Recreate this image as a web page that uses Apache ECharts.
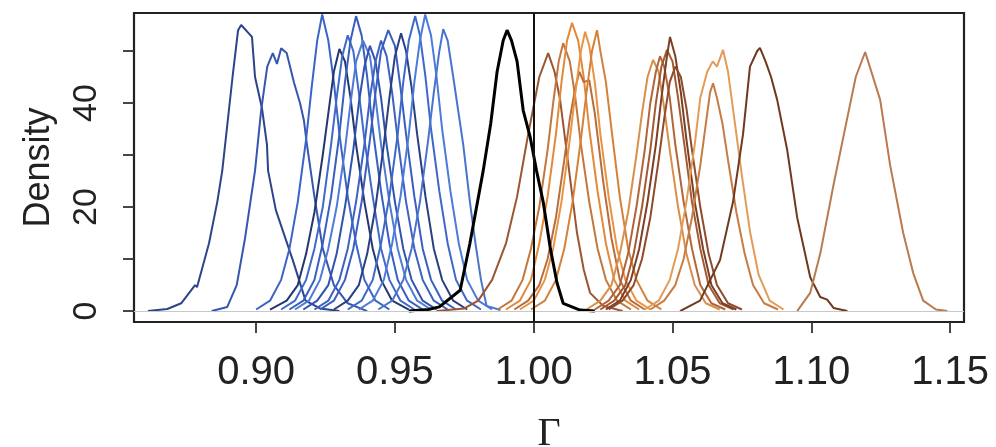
<!DOCTYPE html>
<html>
<head>
<meta charset="utf-8">
<script src="https://cdn.jsdelivr.net/npm/echarts@6/dist/echarts.min.js"></script>
<style>
html,body{margin:0;padding:0;background:#fff;}
#chart{width:996px;height:447px;}
</style>
</head>
<body>
<div id="chart"></div>
<script>
// ---- tick values ----
const xTicks = [0.90, 0.95, 1.00, 1.05, 1.10, 1.15];
const yTicks = [0, 10, 20, 30, 40, 50];
const yLabels = [0, 20, 40];
const refLine = 1.00;

// ---- blue density curves [Gamma, density] ----
const blueA = [[0.861,0],[0.868,0.4],[0.873,1.5],[0.878,5],[0.8787,4.6],[0.883,13],[0.886,21],[0.8878,27],[0.8915,45],[0.8935,54],[0.8946,55],[0.8985,52.7],[0.8996,45],[0.9021,39],[0.9039,32],[0.9043,27],[0.9071,19.4],[0.9132,9.8],[0.9178,2],[0.923,0.5],[0.930,0]];
const blueB = [[0.884,0],[0.8896,0.8],[0.893,5],[0.896,14],[0.8996,27],[0.9018,38.6],[0.904,47],[0.906,49.6],[0.9075,47.5],[0.909,50.5],[0.911,49.6],[0.9136,44],[0.9158,40],[0.9172,36.7],[0.9183,32],[0.921,22],[0.924,12],[0.928,5],[0.933,1.5],[0.940,0]];
const blueC = [[0.900,0.3],[0.905,2],[0.909,6],[0.912,12],[0.915,21],[0.918,33],[0.920,43],[0.922,52],[0.9238,57],[0.926,52],[0.928,44],[0.930,34],[0.933,22],[0.936,13],[0.939,6],[0.943,2],[0.948,0.3]];
const blueD = [[0.905,0.3],[0.911,2],[0.915,5],[0.918,11],[0.921,19],[0.924,30],[0.926,38],[0.928,46],[0.930,50.4],[0.932,48],[0.934,41],[0.936,32],[0.939,21],[0.942,12],[0.945,6],[0.949,2],[0.955,0.3]];
const blueN = [[0.909,0.3],[0.914,2],[0.918,6],[0.921,12],[0.924,20],[0.927,32],[0.929,41],[0.931,49],[0.933,53],[0.935,50],[0.937,42],[0.939,33],[0.942,22],[0.945,12],[0.948,6],[0.952,2],[0.957,0.3]];
const blueE = [[0.912,0.3],[0.917,2],[0.921,6],[0.924,13],[0.927,22],[0.930,34],[0.932,44],[0.934,52],[0.936,56.7],[0.938,53],[0.940,45],[0.942,35],[0.945,23],[0.948,13],[0.951,6],[0.955,2],[0.960,0.3]];
const blueF = [[0.914,0.3],[0.919,2],[0.923,6],[0.926,12],[0.929,20],[0.932,31],[0.934,40],[0.936,48],[0.9385,52],[0.941,49],[0.943,41],[0.945,32],[0.948,21],[0.951,12],[0.954,6],[0.958,2],[0.963,0.3]];
const blueG = [[0.917,0.3],[0.922,2],[0.926,5],[0.929,11],[0.932,20],[0.935,31],[0.937,40],[0.939,47],[0.941,51],[0.943,48],[0.945,41],[0.947,32],[0.950,21],[0.953,12],[0.956,6],[0.960,2],[0.965,0.3]];
const blueM = [[0.921,0.3],[0.926,2],[0.930,6],[0.933,12],[0.936,21],[0.939,32],[0.941,41],[0.943,48],[0.945,52],[0.947,49],[0.949,42],[0.951,33],[0.954,21],[0.957,12],[0.960,6],[0.964,2],[0.969,0.3]];
const blueH = [[0.923,0.3],[0.928,2],[0.932,6],[0.935,12],[0.938,21],[0.941,33],[0.943,42],[0.945,50],[0.9476,54],[0.950,51],[0.952,43],[0.954,34],[0.957,22],[0.960,12],[0.963,6],[0.967,2],[0.972,0.3]];
const blueI = [[0.928,0.3],[0.933,2],[0.937,5],[0.940,11],[0.943,20],[0.946,32],[0.948,41],[0.950,49],[0.9522,53.4],[0.954,50],[0.956,43],[0.958,34],[0.961,22],[0.964,12],[0.967,6],[0.971,2],[0.976,0.3]];
const blueJ = [[0.933,0.3],[0.938,2],[0.942,6],[0.945,13],[0.948,22],[0.951,34],[0.953,44],[0.955,52],[0.9573,56.7],[0.959,53],[0.961,45],[0.963,35],[0.966,23],[0.969,13],[0.972,6],[0.976,2],[0.981,0.3]];
const blueK = [[0.937,0.3],[0.942,2],[0.946,6],[0.949,13],[0.952,22],[0.955,34],[0.957,44],[0.959,52],[0.9609,57],[0.963,53],[0.965,45],[0.967,35],[0.970,23],[0.973,13],[0.976,6],[0.980,2],[0.985,0.3]];
const blueL = [[0.944,0.3],[0.949,2],[0.953,6],[0.956,12],[0.959,21],[0.962,33],[0.964,42],[0.966,50],[0.9674,54.2],[0.969,52],[0.971,45],[0.9746,32],[0.977,21],[0.979,13],[0.981,6],[0.983,1],[0.988,0.2]];

// ---- black reference curve ----
const blackCurve = [[0.955,0],[0.962,0.3],[0.966,0.8],[0.9735,4],[0.977,13],[0.9818,27],[0.9845,36],[0.9868,46],[0.989,52],[0.9904,54],[0.992,52],[0.994,48],[0.9962,38.6],[0.9987,33.5],[1.001,27],[1.0034,21],[1.006,12],[1.0084,5.4],[1.0106,1.5],[1.0167,0.2],[1.022,0]];

// ---- orange / brown density curves ----
const orA = [[0.965,0],[0.975,0.5],[0.980,2],[0.985,6],[0.990,13],[0.994,22],[0.998,34],[1.002,45],[1.0052,49.6],[1.0075,46],[1.0095,40.6],[1.0125,28],[1.0156,15],[1.018,8],[1.0203,3.5],[1.025,1],[1.032,0]];
const orB = [[0.987,0.3],[0.992,2],[0.996,6],[0.999,12],[1.002,20],[1.005,31],[1.007,40],[1.009,48],[1.0106,51.5],[1.013,48],[1.015,41],[1.017,32],[1.020,21],[1.023,12],[1.026,6],[1.030,2],[1.035,0.3]];
const orC = [[0.990,0.3],[0.995,2],[0.999,6],[1.002,13],[1.005,22],[1.008,34],[1.010,44],[1.012,52],[1.0138,55.4],[1.016,52],[1.018,45],[1.020,35],[1.023,23],[1.026,13],[1.029,6],[1.033,2],[1.038,0.3]];
const orD = [[0.993,0.3],[0.998,2],[1.002,5],[1.005,10],[1.008,18],[1.011,29],[1.013,37],[1.015,43],[1.0165,46],[1.018,44],[1.020,44.4],[1.022,38],[1.025,25],[1.028,14],[1.031,6],[1.035,2],[1.040,0.3]];
const orE = [[0.995,0.3],[1.000,2],[1.004,6],[1.007,12],[1.010,21],[1.013,33],[1.015,42],[1.017,50],[1.0185,53.7],[1.020,51],[1.022,44],[1.024,34],[1.027,22],[1.030,12],[1.033,6],[1.037,2],[1.042,0.3]];
const orF = [[0.999,0.3],[1.004,2],[1.008,6],[1.011,12],[1.014,21],[1.017,33],[1.019,42],[1.021,50],[1.0228,54],[1.024,50],[1.026,44],[1.028,35],[1.031,22],[1.034,12],[1.037,6],[1.041,2],[1.046,0.3]];
const orG = [[1.019,0.3],[1.024,2],[1.028,5],[1.031,11],[1.034,19],[1.037,30],[1.039,38],[1.041,45],[1.043,48.3],[1.045,46],[1.047,39],[1.049,31],[1.052,20],[1.055,11],[1.058,5],[1.062,1.5],[1.067,0.3]];
const orH = [[1.022,0.3],[1.027,2],[1.031,5],[1.034,11],[1.037,20],[1.040,31],[1.042,40],[1.044,46],[1.0455,49],[1.047,47],[1.049,41],[1.051,32],[1.054,21],[1.057,12],[1.060,5],[1.064,1.5],[1.069,0.3]];
const orI = [[1.024,0.3],[1.029,2],[1.033,5],[1.036,11],[1.039,20],[1.042,31],[1.044,40],[1.046,47],[1.048,50.2],[1.050,48],[1.052,41],[1.054,33],[1.057,21],[1.060,12],[1.063,5],[1.067,1.5],[1.072,0.3]];
const orJ = [[1.026,0.3],[1.031,2],[1.035,6],[1.038,12],[1.041,21],[1.044,32],[1.046,41],[1.048,49],[1.0491,52.7],[1.051,49],[1.053,42],[1.055,33],[1.058,21],[1.061,12],[1.064,5],[1.068,1.5],[1.073,0.3]];
const orK = [[1.027,0.3],[1.032,2],[1.036,5],[1.039,10],[1.042,18],[1.045,29],[1.047,37],[1.049,44],[1.051,47],[1.053,45],[1.055,39],[1.057,31],[1.060,20],[1.063,11],[1.066,5],[1.070,1.5],[1.075,0.3]];
const orL = [[1.042,0.3],[1.047,2],[1.051,5],[1.054,10],[1.057,18],[1.060,28],[1.062,36],[1.0635,42],[1.0646,43.8],[1.066,41],[1.068,36],[1.070,29],[1.073,19],[1.076,11],[1.079,5],[1.083,1.5],[1.088,0.3]];
const orM = [[1.040,0.3],[1.045,2],[1.049,6],[1.052,12],[1.055,21],[1.058,32],[1.060,41],[1.0625,46],[1.0645,48],[1.066,47],[1.0682,50.2],[1.070,46],[1.072,38],[1.075,26],[1.078,15],[1.081,7],[1.085,2],[1.090,0.3]];
const orN = [[1.0527,0],[1.0599,2],[1.0671,9.8],[1.0718,21],[1.0754,34],[1.0779,47],[1.0805,50],[1.0815,50.6],[1.0835,48],[1.0855,45],[1.0877,40.6],[1.0913,31],[1.0949,18],[1.0996,6.5],[1.1032,2.7],[1.1057,2.2],[1.108,0.6],[1.113,0]];
const orO = [[1.0949,0],[1.0996,3.5],[1.1032,11],[1.1079,24],[1.1129,37],[1.116,45],[1.1194,49.8],[1.1248,40.6],[1.1284,28],[1.1331,15],[1.1367,7.3],[1.1403,2],[1.1449,0.3],[1.149,0]];

const blueCurves = [blueA, blueB, blueC, blueD, blueN, blueE, blueF, blueG, blueM, blueH, blueI, blueJ, blueK, blueL];
const orangeCurves = [orA, orB, orC, orD, orE, orF, orG, orH, orI, orJ, orK, orL, orM, orN, orO];

// ---- styles ----
const blueColors = ['#2e4488','#3656b0','#3a64c6','#24366f','#4169c9','#375fbf','#4f7ad6','#3053b0','#3c62c2','#3a5ec0','#2a3f82','#3d68ca','#4c7bd8','#4a74cc'];
const orangeColors = ['#9b5631','#c4773c','#e2893a','#b96d3c','#ea9342','#d4813a','#d98f4c','#b0663a','#a35a30','#7a3f24','#8f4b2a','#c67c44','#e39b58','#70391f','#b97b4e'];

const series = [];
blueCurves.forEach((d, i) => series.push({
  type: 'line', data: d, showSymbol: false, silent: true, z: 2,
  lineStyle: { color: blueColors[i], width: 2 }
}));
orangeCurves.forEach((d, i) => series.push({
  type: 'line', data: d, showSymbol: false, silent: true, z: 2,
  lineStyle: { color: orangeColors[i], width: 2 }
}));
series.push({
  type: 'line', data: blackCurve, showSymbol: false, silent: true, z: 3,
  lineStyle: { color: '#000', width: 3 },
  markLine: {
    silent: true, symbol: 'none', label: { show: false },
    data: [
      { yAxis: 0, lineStyle: { color: '#c8c8c8', width: 1, type: 'solid' } },
      { xAxis: refLine, lineStyle: { color: '#111', width: 2, type: 'solid' } }
    ]
  }
});

const chart = echarts.init(document.getElementById('chart'), null, { renderer: 'canvas' });
chart.setOption({
  animation: false,
  backgroundColor: '#fff',
  grid: { left: 134, right: 32, top: 13, bottom: 125, containLabel: false, outerBoundsMode: 'none', show: true, borderColor: '#222', borderWidth: 2.2, backgroundColor: 'transparent' },
  xAxis: {
    type: 'value', min: 0.856, max: 1.155,
    name: 'Γ', nameLocation: 'middle', nameGap: 92,
    nameTextStyle: { fontFamily: '"Liberation Serif", "DejaVu Serif", serif', fontSize: 40, color: '#222' },
    axisLine: { show: false, onZero: false },
    splitLine: { show: false },
    axisTick: { show: true, length: 11, inside: false, customValues: xTicks, lineStyle: { color: '#333', width: 1.8 } },
    axisLabel: { customValues: xTicks, margin: 31, fontFamily: '"Liberation Sans", Arial, sans-serif', fontSize: 40, color: '#222', formatter: v => v.toFixed(2) }
  },
  yAxis: {
    type: 'value', min: -2.1, max: 57.3,
    name: 'Density', nameLocation: 'middle', nameGap: 77, nameRotate: 90,
    nameTextStyle: { fontFamily: '"Liberation Sans", Arial, sans-serif', fontSize: 36, color: '#222' },
    axisLine: { show: false, onZero: false },
    splitLine: { show: false },
    axisTick: { show: true, length: 11, inside: false, customValues: yTicks, lineStyle: { color: '#333', width: 1.8 } },
    axisLabel: { customValues: yLabels, rotate: 90, margin: 30, fontFamily: '"Liberation Sans", Arial, sans-serif', fontSize: 34, color: '#222' }
  },
  series: series
});
</script>
</body>
</html>
